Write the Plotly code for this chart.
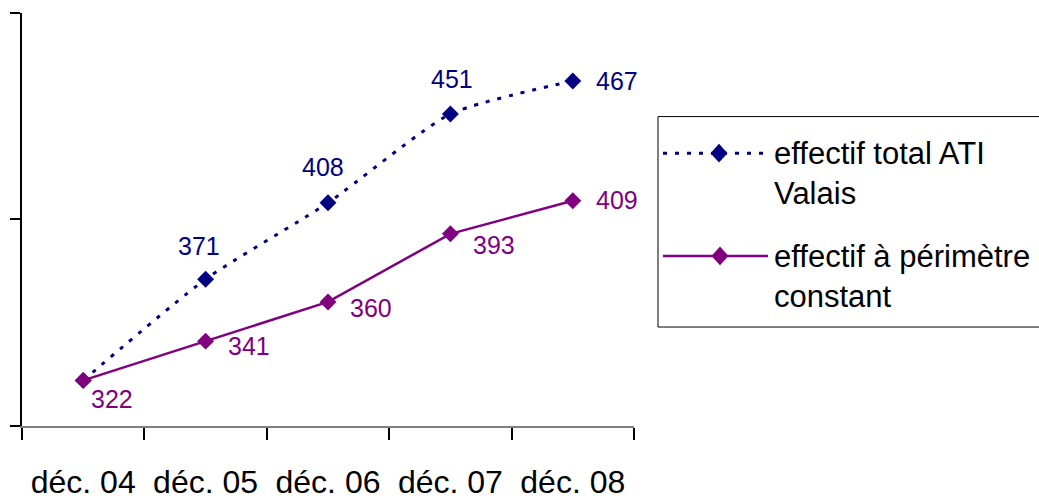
import plotly.graph_objects as go

# ---- data ----
categories = ["déc. 04", "déc. 05", "déc. 06", "déc. 07", "déc. 08"]
total_ati = [322, 371, 408, 451, 467]
perimetre_constant = [322, 341, 360, 393, 409]
name_total = "effectif total ATI<br>Valais"
name_const = "effectif à périmètre<br>constant"
y_ticks = [300, 400, 500]

# ---- style ----
W, H = 1039, 500
NAVY = "#000080"
PURPLE = "#800080"
FONT = "Liberation Sans, Arial, sans-serif"
DOTS = "4px,8px"

def px(x):
    return x / W

def py(y):
    return 1 - y / H

# label offsets (px): (dx, dy) with dy positive = down
total_offsets = [None, (-7, -33), (-5, -36), (2, -35), (44, 0)]
const_offsets = [(29, 19), (43, 5), (43, 6), (44, 11), (44, -1)]

fig = go.Figure()
fig.add_trace(go.Scatter(
    x=categories, y=total_ati, mode="lines+markers", name=name_total,
    line=dict(color=NAVY, width=3, dash=DOTS, shape="spline", smoothing=0.6),
    marker=dict(symbol="diamond", size=13, color=NAVY),
    showlegend=False, cliponaxis=False, hoverinfo="skip",
))
fig.add_trace(go.Scatter(
    x=categories, y=perimetre_constant, mode="lines+markers", name=name_const,
    line=dict(color=PURPLE, width=2.5),
    marker=dict(symbol="diamond", size=13, color=PURPLE),
    showlegend=False, cliponaxis=False, hoverinfo="skip",
))

annotations = []
for cat, val, off in zip(categories, total_ati, total_offsets):
    if off is None:
        continue
    annotations.append(dict(x=cat, y=val, xref="x", yref="y", text=str(val),
                            showarrow=False, xanchor="center", yanchor="middle",
                            xshift=off[0], yshift=-off[1],
                            font=dict(family=FONT, size=25, color=NAVY)))
for cat, val, off in zip(categories, perimetre_constant, const_offsets):
    annotations.append(dict(x=cat, y=val, xref="x", yref="y", text=str(val),
                            showarrow=False, xanchor="center", yanchor="middle",
                            xshift=off[0], yshift=-off[1],
                            font=dict(family=FONT, size=25, color=PURPLE)))

# legend texts
annotations.append(dict(x=px(772), y=py(175.5), xref="paper", yref="paper",
                        text=name_total, showarrow=False, xanchor="left", yanchor="middle",
                        align="left", font=dict(family=FONT, size=31, color="black")))
annotations.append(dict(x=px(772), y=py(279.5), xref="paper", yref="paper",
                        text=name_const, showarrow=False, xanchor="left", yanchor="middle",
                        align="left", font=dict(family=FONT, size=31, color="black")))

def diamond(cx, cy, hw, hh):
    return (f"M {px(cx - hw)},{py(cy)} L {px(cx)},{py(cy - hh)} "
            f"L {px(cx + hw)},{py(cy)} L {px(cx)},{py(cy + hh)} Z")

shapes = [
    dict(type="rect", xref="paper", yref="paper", x0=px(658), x1=px(1080),
         y0=py(331), y1=py(118), line=dict(color="black", width=1)),
    dict(type="line", xref="paper", yref="paper", x0=px(663), x1=px(768),
         y0=py(155), y1=py(155), line=dict(color=NAVY, width=3, dash=DOTS)),
    dict(type="path", xref="paper", yref="paper", path=diamond(719, 155, 8.5, 9.5),
         fillcolor=NAVY, line=dict(color=NAVY, width=0)),
    dict(type="line", xref="paper", yref="paper", x0=px(663), x1=px(768),
         y0=py(259), y1=py(259), line=dict(color=PURPLE, width=2.5)),
    dict(type="path", xref="paper", yref="paper", path=diamond(720, 259, 8.5, 9.5),
         fillcolor=PURPLE, line=dict(color=PURPLE, width=0)),
]

fig.update_layout(
    autosize=True,
    margin=dict(l=0, r=0, t=0, b=0),
    paper_bgcolor="white", plot_bgcolor="white",
    font=dict(family=FONT, color="black"),
    annotations=annotations, shapes=shapes,
    hovermode=False,
    xaxis=dict(
        domain=[px(22), px(634)], type="category", range=[-0.5, 4.5],
        tickson="boundaries", ticks="outside", ticklen=12, tickcolor="black", tickwidth=1.5,
        showline=True, linecolor="#808080", linewidth=2, showgrid=False,
        tickfont=dict(family=FONT, size=32, color="black"),
        ticklabelstandoff=27,
    ),
    yaxis=dict(
        domain=[py(431), py(13)], range=[300, 500], tickvals=y_ticks,
        showticklabels=False, ticks="outside", ticklen=10, tickcolor="black", tickwidth=1.5,
        showline=True, linecolor="black", linewidth=1.5, showgrid=False, zeroline=False,
    ),
)

fig.write_html(
    "out.html",
    config={"displayModeBar": False, "responsive": True},
    default_width="100vw",
    default_height="100vh",
    post_script="document.body.style.margin='0';document.body.style.overflow='hidden';",
)
